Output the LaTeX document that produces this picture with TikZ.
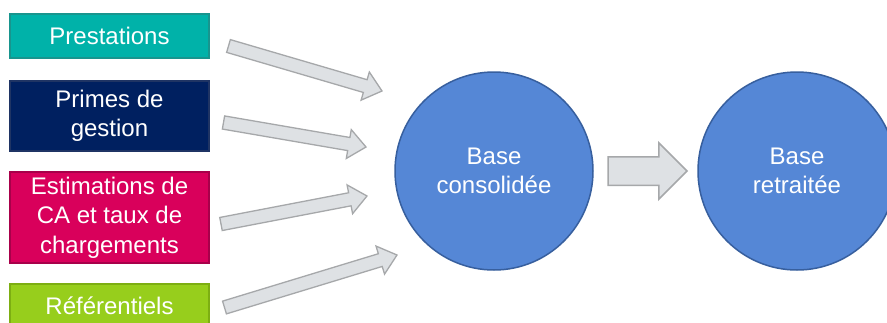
\documentclass[tikz,border=0pt]{standalone}
\usepackage{fontspec}
\setmainfont{Liberation Sans}
\usetikzlibrary{shapes.arrows,calc}

\definecolor{tealfill}{HTML}{00B2A9}
\definecolor{tealline}{HTML}{18958E}
\definecolor{navyfill}{HTML}{002060}
\definecolor{navyline}{HTML}{1F3464}
\definecolor{magfill}{HTML}{D9005B}
\definecolor{magline}{HTML}{A8004A}
\definecolor{limefill}{HTML}{97CE1C}
\definecolor{limeline}{HTML}{7DAE12}
\definecolor{circfill}{HTML}{5587D6}
\definecolor{circline}{HTML}{375F9E}
\definecolor{arrfill}{HTML}{DEE1E4}
\definecolor{arrline}{HTML}{A6A8AA}

\tikzset{
  src/.style={rectangle, minimum width=199pt, line width=1.5pt, inner sep=0pt,
    text=white, font=\fontsize{24pt}{29.5pt}\selectfont, align=center},
  basecirc/.style={circle, minimum size=198pt, fill=circfill, draw=circline,
    line width=1.5pt, text=white, font=\fontsize{24pt}{29pt}\selectfont,
    align=center, inner sep=0pt},
  feedarrow/.style={single arrow, fill=arrfill, draw=arrline, line width=1.3pt,
    inner xsep=0pt, inner ysep=6pt, outer sep=0pt, single arrow head extend=8pt,
    single arrow tip angle=80},
  midarrow/.style={single arrow, fill=arrfill, draw=arrline, line width=1.5pt,
    inner xsep=0pt, inner ysep=13.5pt, outer sep=0pt, single arrow head extend=14pt,
    single arrow tip angle=90}
}

% block arrow from coordinate #2 (tail) to coordinate #3 (tip)
\newcommand{\blockarrow}[3]{%
  \path let \p1=($(#3)-(#2)$), \n1={veclen(\x1,\y1)} in
    (#2) -- (#3) node[pos=0, sloped, anchor=tail, #1, minimum height=\n1] {};}

\begin{document}
\begin{tikzpicture}[x=1pt, y=-1pt]
  \useasboundingbox[fill=white] (0,0) rectangle (887,322);

  % source boxes
  \node[src, fill=tealfill, draw=tealline, minimum height=44pt] (prest) at (109.5,36) {Prestations};
  \node[src, fill=navyfill, draw=navyline, minimum height=70pt] (primes) at (109.5,116) {Primes de\\gestion};
  \node[src, fill=magfill, draw=magline, minimum height=91pt] (estim) at (109.5,217.5) {Estimations de\\CA et taux de\\chargements};
  \node[src, fill=limefill, draw=limeline, minimum height=44pt] (refer) at (109.5,306) {Référentiels};

  % bases
  \node[basecirc] (consol) at (494,171) {Base\\consolidée};
  \node[basecirc] (retrait) at (797,171) {Base\\retraitée};

  % feeding arrows
  \coordinate (t1) at (228.5,46);  \coordinate (h1) at (382,91);
  \coordinate (t2) at (223.5,122.5); \coordinate (h2) at (366,147);
  \coordinate (t3) at (221,224);   \coordinate (h3) at (367,196);
  \coordinate (t4) at (224.5,307.5); \coordinate (h4) at (397,255);
  \blockarrow{feedarrow}{t1}{h1}
  \blockarrow{feedarrow}{t2}{h2}
  \blockarrow{feedarrow}{t3}{h3}
  \blockarrow{feedarrow}{t4}{h4}

  % arrow between the two bases
  \coordinate (m1) at (608,171); \coordinate (m2) at (687,171);
  \blockarrow{midarrow}{m1}{m2}
\end{tikzpicture}
\end{document}
